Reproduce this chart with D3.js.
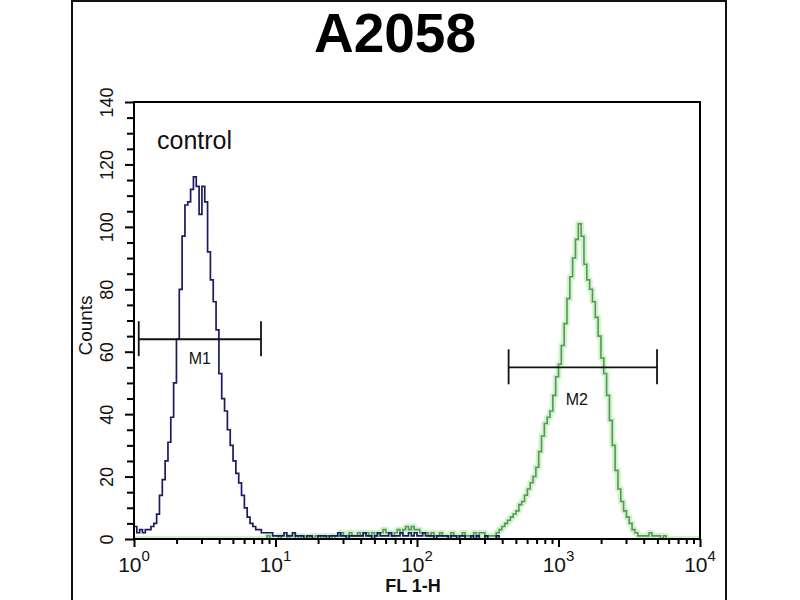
<!DOCTYPE html>
<html><head><meta charset="utf-8">
<script src="https://cdn.jsdelivr.net/npm/d3@7/dist/d3.min.js"></script>
<style>body{margin:0;background:#fff}svg{display:block;font-family:"Liberation Sans",Arial,sans-serif}</style>
</head><body>
<script>
// ---------- data ----------
const title = "A2058";
const seriesLabel = "control";
const xLabel = "FL 1-H";
const yLabel = "Counts";
const channelsPerDecade = 50;          // histogram channels per log decade
const xDecades = [1, 10, 100, 1000, 10000];
const xExponents = ["0", "1", "2", "3", "4"];
const yMajorTicks = [0, 20, 40, 60, 80, 100, 120, 140];
const yMinorTicks = [5,10,15,25,30,35,45,50,55,65,70,75,85,90,95,105,110,115,125,130,135];

// control (isotype) histogram counts, channel 0..129
const controlCounts = [
  4,2,3,2,3,3,4,5,8,14, 19,25,31,39,50,64,80,97,107,108,
  112,116,113,104,113,108,92,83,76,67, 53,45,41,35,30,25,21,18,14,10,
  7,5,4,3,3,2,2,2,
  2,1,1,1,1,2,1,1,2,1,1,1,
  0,1,1,0,0,1,1,1,0,1, 1,1,2,1,1,0,1,1,1,1,
  1,2,1,1,0,1,2,1,1,1, 2,1,1,1,2,1,1,2,1,2, 1,1,2,1,1,1,0,1,1,1,
  1,0,1,1,0,1,1,0,0,1, 0,1,0,0,1,0,0,0,1,0
];
// antibody-stained histogram counts, channel 0..199
const sampleCounts = [
  0,0,0,0,0,0,0,0,0,0, 0,0,0,0,0,0,0,0,0,0, 0,0,0,0,0,0,0,0,0,0,
  0,0,0,0,0,0,0,0,0,0, 0,0,0,0,0,0,0,1,0,0, 0,1,0,0,1,0,0,1,0,1,
  0,0,1,0,1,1,0,1,1,1, 0,1,1,2,1,1,2,1,1,2,
  1,2,2,1,2,1,2,2,3,2, 2,1,2,3,2,3,4,3,4,3, 3,2,2,2,1,2,1,1,2,1,
  1,1,2,1,1,1,2,1,1,1, 2,1,2,2,1,1,
  1,1,2,3,4,5,6,7,8,9, 11,12,14,16,18,20,23,28,33,37,
  39,41,46,52,56,62,69,77,84,90, 96,101,97,88,83,80,76,71,65,58,
  53,46,38,30,22,16,12,9,7,5, 3,2,1,
  1,1,1,2,1,1,1,0,1,0, 0,0,0,0,0,0,0,0,0,0, 0
];
// gate markers: FL1 range and count level
const markerNames = ["M1", "M2"];
const markerLow = [1.08, 444];
const markerHigh = [7.9, 4970];
const markerLevel = [64, 55];

// ---------- layout / style ----------
const W = 800, H = 600;
const plot = {left: 134, right: 700, top: 102, bottom: 539};
const markerLabelOffset = [25, 38];
const markerLabelDx = [0, -6];

const svg = d3.select("body").append("svg").attr("width", W).attr("height", H);
svg.append("rect").attr("width", W).attr("height", H).attr("fill", "#fff");

// outer figure frame
svg.append("rect").attr("x", 72).attr("y", 1).attr("width", 654).attr("height", 700)
  .attr("fill", "none").attr("stroke", "#111").attr("stroke-width", 2);

const x = d3.scaleLog().domain([1, 10000]).range([plot.left, plot.right]);
const y = d3.scaleLinear().domain([0, 140]).range([plot.bottom, plot.top]);

// title
svg.append("text").attr("x", 395).attr("y", 52).attr("text-anchor", "middle")
  .attr("font-size", 55).attr("font-weight", "bold").attr("fill", "#000").text(title);

// histograms
const chanValue = c => Math.pow(10, c / channelsPerDecade);
function histPoints(counts) {
  const pts = counts.map((v, i) => [x(chanValue(i)), y(v)]);
  pts.push([x(chanValue(counts.length)), y(counts[counts.length - 1])]);
  return pts;
}
const line = d3.line().curve(d3.curveStepAfter);
svg.append("clipPath").attr("id", "pc").append("rect")
  .attr("x", plot.left).attr("y", plot.top - 5).attr("width", plot.right - plot.left).attr("height", plot.bottom - plot.top + 5);
const g = svg.append("g").attr("clip-path", "url(#pc)");

g.append("path").attr("d", line(histPoints(sampleCounts))).attr("fill", "none")
  .attr("stroke", "#9eee96").attr("stroke-width", 6).attr("stroke-opacity", 0.5).attr("stroke-linejoin", "round");
g.append("path").attr("d", line(histPoints(sampleCounts))).attr("fill", "none")
  .attr("stroke", "#5c935c").attr("stroke-width", 1.6);
g.append("path").attr("d", line(histPoints(controlCounts))).attr("fill", "none")
  .attr("stroke", "#1b1b62").attr("stroke-width", 1.7);

// plot frame
svg.append("rect").attr("x", plot.left).attr("y", plot.top)
  .attr("width", plot.right - plot.left).attr("height", plot.bottom - plot.top)
  .attr("fill", "none").attr("stroke", "#000").attr("stroke-width", 2);

// y axis
const yMajor = svg.append("g").attr("transform", `translate(${plot.left},0)`)
  .call(d3.axisLeft(y).tickValues(yMajorTicks).tickSize(9).tickFormat(d3.format("d")));
const yMinor = svg.append("g").attr("transform", `translate(${plot.left},0)`)
  .call(d3.axisLeft(y).tickValues(yMinorTicks).tickSize(7).tickFormat(""));
[yMajor, yMinor].forEach(a => {
  a.select(".domain").remove();
  a.selectAll("line").attr("stroke", "#000").attr("stroke-width", 2);
});
yMajor.selectAll("text").attr("transform", "rotate(-90)").attr("x", 0).attr("y", -21).attr("dy", 0)
  .style("text-anchor", "middle").attr("font-size", 18).attr("fill", "#111")
  .attr("font-family", "'Liberation Sans',Arial,sans-serif");

// x axis
const xMinorVals = [];
xDecades.slice(0, -1).forEach(d => { for (let k = 2; k <= 9; k++) xMinorVals.push(d * k); });
const xMajor = svg.append("g").attr("transform", `translate(0,${plot.bottom})`)
  .call(d3.axisBottom(x).tickValues(xDecades).tickSize(8).tickFormat(""));
const xMinor = svg.append("g").attr("transform", `translate(0,${plot.bottom})`)
  .call(d3.axisBottom(x).tickValues(xMinorVals).tickSize(5).tickFormat(""));
[xMajor, xMinor].forEach(a => {
  a.select(".domain").remove();
  a.selectAll("line").attr("stroke", "#000").attr("stroke-width", 2);
});
xDecades.forEach((d, i) => {
  const t = svg.append("text").attr("x", x(d)).attr("y", 572).attr("text-anchor", "middle")
    .attr("font-size", 21).attr("fill", "#111");
  t.append("tspan").text("10");
  t.append("tspan").attr("dy", -11).attr("font-size", 15).text(xExponents[i]);
});

// axis titles
svg.append("text").attr("x", 413).attr("y", 592).attr("text-anchor", "middle")
  .attr("font-size", 18).attr("font-weight", "bold").attr("fill", "#111").text(xLabel);
svg.append("text").attr("transform", `translate(92,${(plot.top + plot.bottom) / 2 + 5}) rotate(-90)`)
  .attr("text-anchor", "middle").attr("font-size", 19).attr("fill", "#111").text(yLabel);

// series label
svg.append("text").attr("x", 157).attr("y", 149).attr("font-size", 25).attr("fill", "#111").text(seriesLabel);

// markers
markerNames.forEach((name, i) => {
  const x0 = x(markerLow[i]), x1 = x(markerHigh[i]), yy = y(markerLevel[i]);
  const mg = svg.append("g").attr("stroke", "#111").attr("stroke-width", 1.8);
  mg.append("line").attr("x1", x0).attr("x2", x1).attr("y1", yy).attr("y2", yy);
  mg.append("line").attr("x1", x0).attr("x2", x0).attr("y1", yy - 18).attr("y2", yy + 17);
  mg.append("line").attr("x1", x1).attr("x2", x1).attr("y1", yy - 18).attr("y2", yy + 17);
  const cx = x(Math.sqrt(markerLow[i] * markerHigh[i])) + markerLabelDx[i];
  svg.append("text").attr("x", cx).attr("y", yy + markerLabelOffset[i]).attr("text-anchor", "middle")
    .attr("font-size", 16).attr("fill", "#111").text(name);
});
</script>
</body></html>
